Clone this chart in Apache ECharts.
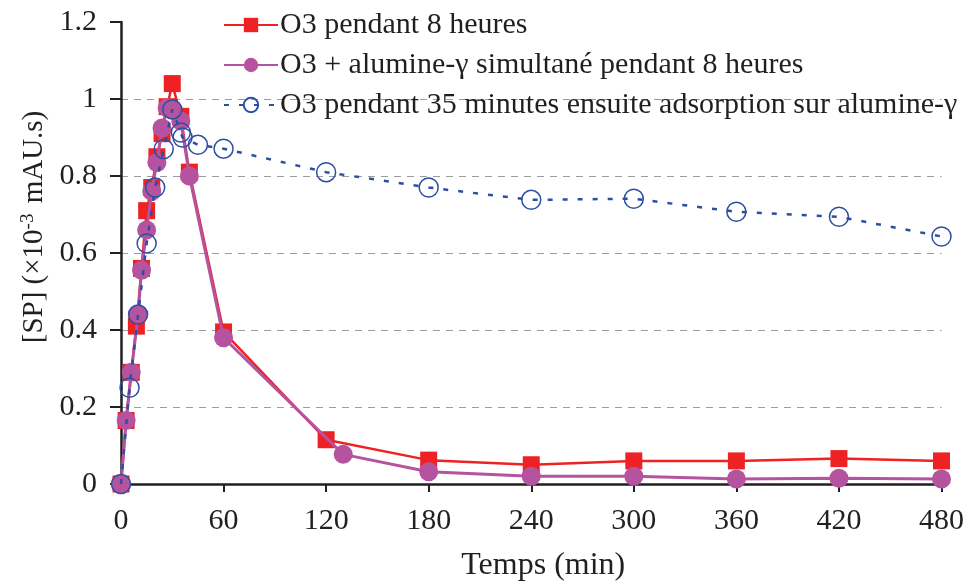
<!DOCTYPE html>
<html>
<head>
<meta charset="utf-8">
<script src="https://cdn.jsdelivr.net/npm/echarts@6/dist/echarts.min.js"></script>
<style>html,body{margin:0;padding:0;background:#fff}#main{width:967px;height:587px}</style>
</head>
<body>
<div id="main"></div>
<script>
// O3 pendant 8 heures
var tRed = [0, 3, 6, 9, 12, 15, 18, 21, 24, 27, 30, 35, 40, 60, 120, 180, 240, 300, 360, 420, 480];
var vRed = [0, 0.165, 0.29, 0.41, 0.56, 0.71, 0.77, 0.85, 0.91, 0.98, 1.04, 0.955, 0.81, 0.395, 0.115, 0.062, 0.05, 0.06, 0.06, 0.066, 0.06];
// O3 + alumine simultane
var tPur = [0, 3, 6, 10, 12, 15, 18, 21, 24, 27, 30, 35, 40, 60, 130, 180, 240, 300, 360, 420, 480];
var vPur = [0, 0.165, 0.29, 0.44, 0.555, 0.66, 0.76, 0.835, 0.925, 0.977, 0.972, 0.943, 0.80, 0.38, 0.077, 0.032, 0.02, 0.02, 0.013, 0.015, 0.013];
// O3 35 min puis adsorption
var tBlue = [0, 5, 10, 15, 20, 25, 30, 35, 36, 45, 60, 120, 180, 240, 300, 360, 420, 480];
var vBlue = [0, 0.25, 0.44, 0.625, 0.77, 0.87, 0.973, 0.913, 0.90, 0.881, 0.871, 0.81, 0.77, 0.738, 0.741, 0.707, 0.694, 0.643];

var names = [
    'O3 pendant 8 heures',
    'O3 + alumine-γ simultané pendant 8 heures',
    'O3 pendant 35 minutes ensuite adsorption sur alumine-γ'
];

function pairs(t, v) {
    return t.map(function (x, i) { return [x, v[i]]; });
}

var font = 'Liberation Serif';
var ink = '#231f20';
var chart = echarts.init(document.getElementById('main'));
var option = {
    animation: false,
    textStyle: { fontFamily: font },
    grid: { left: 121, right: 22, top: 22, bottom: 100 },
    legend: {
        orient: 'vertical',
        left: 218,
        top: 5,
        itemWidth: 54,
        itemHeight: 18,
        itemGap: 10,
        textStyle: { fontFamily: font, fontSize: 30, color: ink, padding: [0, 0, 0, -3] },
        data: names
    },
    xAxis: {
        type: 'value',
        min: 0, max: 480, interval: 60,
        name: 'Temps (min)',
        nameLocation: 'middle',
        nameGap: 66,
        nameTextStyle: { fontFamily: font, fontSize: 32, color: ink, padding: [0, 0, 0, 24] },
        axisLine: { lineStyle: { color: ink, width: 2.5 } },
        axisTick: { length: 8, lineStyle: { color: ink, width: 2 } },
        axisLabel: { margin: 22, fontFamily: font, fontSize: 30, color: ink },
        splitLine: { show: false }
    },
    yAxis: {
        type: 'value',
        min: 0, max: 1.2, interval: 0.2,
        name: '[SP] (×10{sup|-3} mAU.s)',
        nameLocation: 'middle',
        nameGap: 71,
        nameTextStyle: {
            fontFamily: font, fontSize: 29, color: ink, padding: [0, 0, 0, 52],
            rich: {
                sup: { fontFamily: font, fontSize: 19, color: ink, verticalAlign: 'top', padding: [0, 3, 12, 0] }
            }
        },
        axisLine: { lineStyle: { color: ink, width: 2.5 } },
        axisTick: { length: 11, lineStyle: { color: ink, width: 2 } },
        axisLabel: { margin: 24, fontFamily: font, fontSize: 30, color: ink },
        splitLine: {
            show: true, showMaxLine: false,
            lineStyle: { color: '#9d9d9d', type: [7, 6], width: 1.2 }
        }
    },
    series: [
        {
            name: names[0],
            type: 'line',
            data: pairs(tRed, vRed),
            symbol: 'rect',
            symbolSize: 17,
            itemStyle: { color: '#ee2224' },
            lineStyle: { color: '#ee2224', width: 2.5 },
            z: 2
        },
        {
            name: names[1],
            type: 'line',
            data: pairs(tPur, vPur),
            symbol: 'circle',
            symbolSize: 19,
            itemStyle: { color: '#b5539f' },
            lineStyle: { color: '#b5539f', width: 3 },
            z: 3
        },
        {
            name: names[2],
            type: 'line',
            data: pairs(tBlue, vBlue),
            symbol: 'circle',
            symbolSize: 19,
            itemStyle: { color: 'rgba(255,255,255,0)', borderColor: '#2c4ea3', borderWidth: 1.5 },
            lineStyle: { color: '#2c4ea3', width: 2.5, type: [5, 10] },
            z: 4
        }
    ]
};
chart.setOption(option);
</script>
</body>
</html>
